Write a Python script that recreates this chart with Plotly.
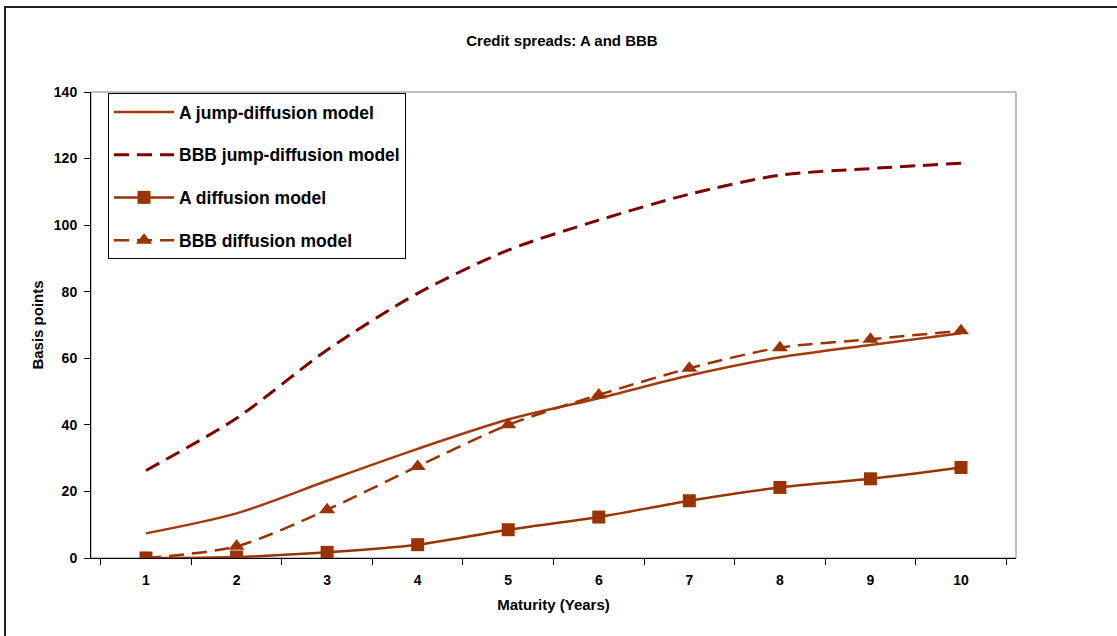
import plotly.graph_objects as go

maturity = ["1", "2", "3", "4", "5", "6", "7", "8", "9", "10"]
a_jump = [7.4, 13.4, 23.2, 32.8, 41.6, 48.0, 54.8, 60.3, 64.0, 67.5]
bbb_jump = [26.3, 42.0, 62.5, 79.5, 92.5, 101.5, 109.3, 115.0, 117.0, 118.6]
a_diff = [0.0, 0.3, 1.7, 4.0, 8.5, 12.3, 17.2, 21.2, 23.8, 27.2]
bbb_diff = [0.0, 3.5, 14.5, 27.5, 40.0, 49.0, 57.0, 63.2, 65.7, 68.3]

FONT = "Liberation Sans, Arial, sans-serif"
BROWN = "#993300"
DARKRED = "#800000"

W, H = 1117, 636
L, R, T, B = 91, 101, 92, 78
PW, PH = W - L - R, H - T - B

fig = go.Figure()
fig.add_trace(go.Scatter(x=maturity, y=a_jump, name="<b>A jump-diffusion model</b>", mode="lines",
                         line=dict(color="#A33A0B", width=2.5, shape="spline", smoothing=0.8),
                         legendgroup="g1"))
fig.add_trace(go.Scatter(x=maturity, y=bbb_jump, name="<b>BBB jump-diffusion model</b>", mode="lines",
                         line=dict(color=DARKRED, width=3, dash="15px,8px", shape="spline", smoothing=0.8),
                         legendgroup="g2"))
fig.add_trace(go.Scatter(x=maturity, y=a_diff, name="<b>A diffusion model</b>", mode="lines+markers",
                         line=dict(color=BROWN, width=2.5, shape="spline", smoothing=0.8),
                         marker=dict(symbol="square", size=13, color=BROWN),
                         legendgroup="g3"))
fig.add_trace(go.Scatter(x=maturity, y=bbb_diff, name="<b>BBB diffusion model</b>", mode="lines+markers",
                         line=dict(color=BROWN, width=2.5, dash="15px,8px", shape="spline", smoothing=0.8),
                         marker=dict(symbol="triangle-up", size=14, color=BROWN),
                         legendgroup="g4"))

fig.update_layout(
    width=W, height=H,
    margin=dict(l=L, r=R, t=T, b=B),
    paper_bgcolor="white", plot_bgcolor="white",
    font=dict(family=FONT, color="black"),
    title=dict(text="<b>Credit spreads: A and BBB</b>", x=562 / W, xanchor="center",
               y=1 - 41 / H, yanchor="middle", font=dict(size=15, family=FONT, color="black")),
    showlegend=True,
    legend=dict(x=(108 - L) / PW, y=(558 - 93) / PH, xanchor="left", yanchor="top",
                bgcolor="white", bordercolor="black", borderwidth=1,
                font=dict(size=17.5, family=FONT, color="black"),
                tracegroupgap=17, itemwidth=60),
    xaxis=dict(type="category", tickson="boundaries", ticks="outside", ticklen=6,
               tickcolor="black", showline=True, linecolor="black", linewidth=1,
               showgrid=False, zeroline=False, ticklabelstandoff=9,
               tickfont=dict(size=14, family=FONT, color="black"),
               tickprefix="<b>", ticksuffix="</b>",
               title=dict(text="<b>Maturity (Years)</b>", font=dict(size=15, family=FONT, color="black"),
                          standoff=12)),
    yaxis=dict(range=[0, 140], dtick=20, ticks="outside", ticklen=6, tickcolor="black",
               showline=True, linecolor="black", linewidth=1, showgrid=False, zeroline=False,
               ticklabelstandoff=4,
               tickfont=dict(size=14, family=FONT, color="black"),
               tickprefix="<b>", ticksuffix="</b>",
               title=dict(text="<b>Basis points</b>", font=dict(size=15, family=FONT, color="black"),
                          standoff=6)),
    shapes=[
        dict(type="rect", xref="paper", yref="paper", x0=0, x1=1, y0=0, y1=1,
             line=dict(color="#808080", width=1), layer="below"),
        dict(type="rect", xref="paper", yref="paper", x0=(5 - L) / PW, x1=1.3,
             y0=-0.4, y1=(558 - 7) / PH, line=dict(color="#222222", width=2)),
    ],
)

fig.write_html("out.html",
               config={"displayModeBar": False},
               post_script="document.body.style.margin='0px';document.body.style.overflow='hidden';")
